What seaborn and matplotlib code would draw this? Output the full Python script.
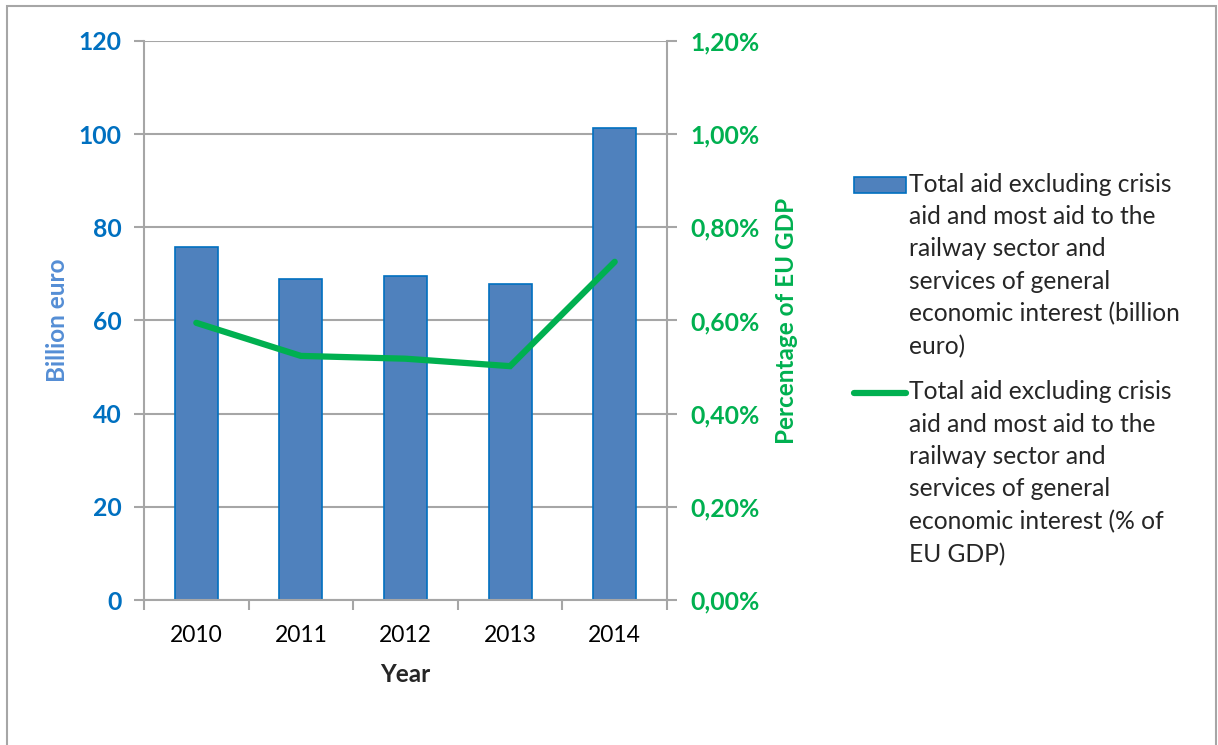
import matplotlib
matplotlib.use("Agg")
import matplotlib.pyplot as plt
from matplotlib.patches import Rectangle
from matplotlib.lines import Line2D
from matplotlib.ticker import FuncFormatter, FixedLocator
from matplotlib.transforms import Affine2D
from matplotlib.legend_handler import HandlerPatch, HandlerLine2D
import seaborn as sns
import pandas as pd
import numpy as np

# Data
years = ["2010", "2011", "2012", "2013", "2014"]
aid_billion = [75.8, 68.9, 69.6, 67.8, 101.3]
aid_pct_gdp = [0.595, 0.524, 0.518, 0.502, 0.726]
legend_bar = ("Total aid excluding crisis\naid and most aid to the\nrailway sector and\n"
              "services of general\neconomic interest (billion\neuro)")
legend_line = ("Total aid excluding crisis\naid and most aid to the\nrailway sector and\n"
               "services of general\neconomic interest (% of\nEU GDP)")

df = pd.DataFrame({"Year": years, "aid": aid_billion, "pct": aid_pct_gdp})

sns.set_style("white")
plt.rcParams["font.family"] = ["Lato", "DejaVu Sans"]

DPI = 100
BLUE_FILL = "#4F81BD"
BLUE_EDGE = "#0070C0"
BLUE_LABEL = "#558ED5"
GREEN = "#00B050"
GRID = "#A6A6A6"

LEG_FS = 17.7
LINE_PITCH_PX = 32.5
# shift legend keys from the middle of a six-line label up to its first line
KEY_SHIFT_PT = 2.5 * LINE_PITCH_PX * 72 / DPI


class TopPatchHandler(HandlerPatch):
    def create_artists(self, legend, orig_handle, xdescent, ydescent, width, height, fontsize, trans):
        t = Affine2D().translate(0, KEY_SHIFT_PT) + trans
        return super().create_artists(legend, orig_handle, xdescent, ydescent, width, height, fontsize, t)


class TopLineHandler(HandlerLine2D):
    def create_artists(self, legend, orig_handle, xdescent, ydescent, width, height, fontsize, trans):
        t = Affine2D().translate(0, KEY_SHIFT_PT) + trans
        return super().create_artists(legend, orig_handle, xdescent, ydescent, width, height, fontsize, t)


fig = plt.figure(figsize=(12.18, 7.45), dpi=DPI)
ax = fig.add_axes([144 / 1218, 1 - 600 / 745, (667 - 144) / 1218, (600 - 41) / 745])

sns.barplot(data=df, x="Year", y="aid", order=years, color=BLUE_FILL,
            edgecolor=BLUE_EDGE, linewidth=1.2, width=0.41, saturation=1,
            ax=ax, zorder=2)

ax2 = ax.twinx()
sns.pointplot(data=df, x="Year", y="pct", order=years, color=GREEN,
              markers="", linestyles="-", ax=ax2)
for ln in ax2.lines:
    ln.set_linewidth(4.5)
    ln.set_solid_capstyle("round")
    ln.set_solid_joinstyle("miter")

ax.set_xlim(-0.5, len(years) - 0.5)
ax.set_ylim(0, 120)
ax2.set_ylim(0, 1.2)
ax.set_yticks(np.arange(0, 121, 20))
ax2.set_yticks(np.arange(0, 1.21, 0.2))
ax2.yaxis.set_major_formatter(FuncFormatter(lambda v, p: f"{v:.2f}%".replace(".", ",")))

# horizontal gridlines
ax.yaxis.grid(True, color=GRID, linewidth=1.5, zorder=0)
ax.set_axisbelow(True)

# spines
for a in (ax, ax2):
    for s in a.spines.values():
        s.set_visible(False)
ax.spines["left"].set_visible(True)
ax.spines["bottom"].set_visible(True)
ax2.spines["right"].set_visible(True)
for s in (ax.spines["left"], ax.spines["bottom"], ax2.spines["right"]):
    s.set_color(GRID)
    s.set_linewidth(1.5)

# ticks
ax.tick_params(axis="y", colors=GRID, direction="out", length=7, width=1.5,
               labelcolor=BLUE_EDGE, labelsize=17.8, pad=9, left=True)
for t in ax.get_yticklabels():
    t.set_fontweight("bold")
ax2.tick_params(axis="y", colors=GRID, direction="out", length=7, width=1.5,
                labelcolor=GREEN, labelsize=17.8, pad=10, right=True)
for t in ax2.get_yticklabels():
    t.set_fontweight("bold")

ax.tick_params(axis="x", which="major", length=0, labelsize=16.5, labelcolor="black", pad=18)
ax.xaxis.set_minor_locator(FixedLocator(np.arange(-0.5, len(years), 1.0)))
ax.tick_params(axis="x", which="minor", bottom=True, length=7, width=1.5, color=GRID, direction="out")

ax.set_xlabel("Year", fontsize=17.5, fontweight="bold", labelpad=12)
ax.set_ylabel("Billion euro", fontsize=17.5, fontweight="bold", color=BLUE_LABEL, labelpad=7)
ax2.set_ylabel("Percentage of EU GDP", fontsize=17.5, fontweight="bold", color=GREEN, labelpad=11)

# legend: keys taken from the drawn bar and line
bar_key = ax.patches[0]
line_key = ax2.lines[0]
leg = fig.legend([bar_key, line_key], [legend_bar, legend_line], loc="upper left",
                 bbox_to_anchor=(844 / 1218, 1 - 163 / 745),
                 frameon=False, fontsize=LEG_FS, handlelength=2.11, handleheight=0.65,
                 handletextpad=0.15, labelspacing=0.9, borderaxespad=0,
                 handler_map={Rectangle: TopPatchHandler(), Line2D: TopLineHandler()})
for txt in leg.get_texts():
    txt.set_linespacing(1.49)

# chart area border
fig.patches.append(Rectangle((7 / 1218, -0.05), (1216 - 7) / 1218, 1 - 6 / 745 + 0.05,
                             transform=fig.transFigure, fill=False, edgecolor=GRID,
                             linewidth=1.5, zorder=-1))

fig.savefig("out.png", dpi=DPI)
